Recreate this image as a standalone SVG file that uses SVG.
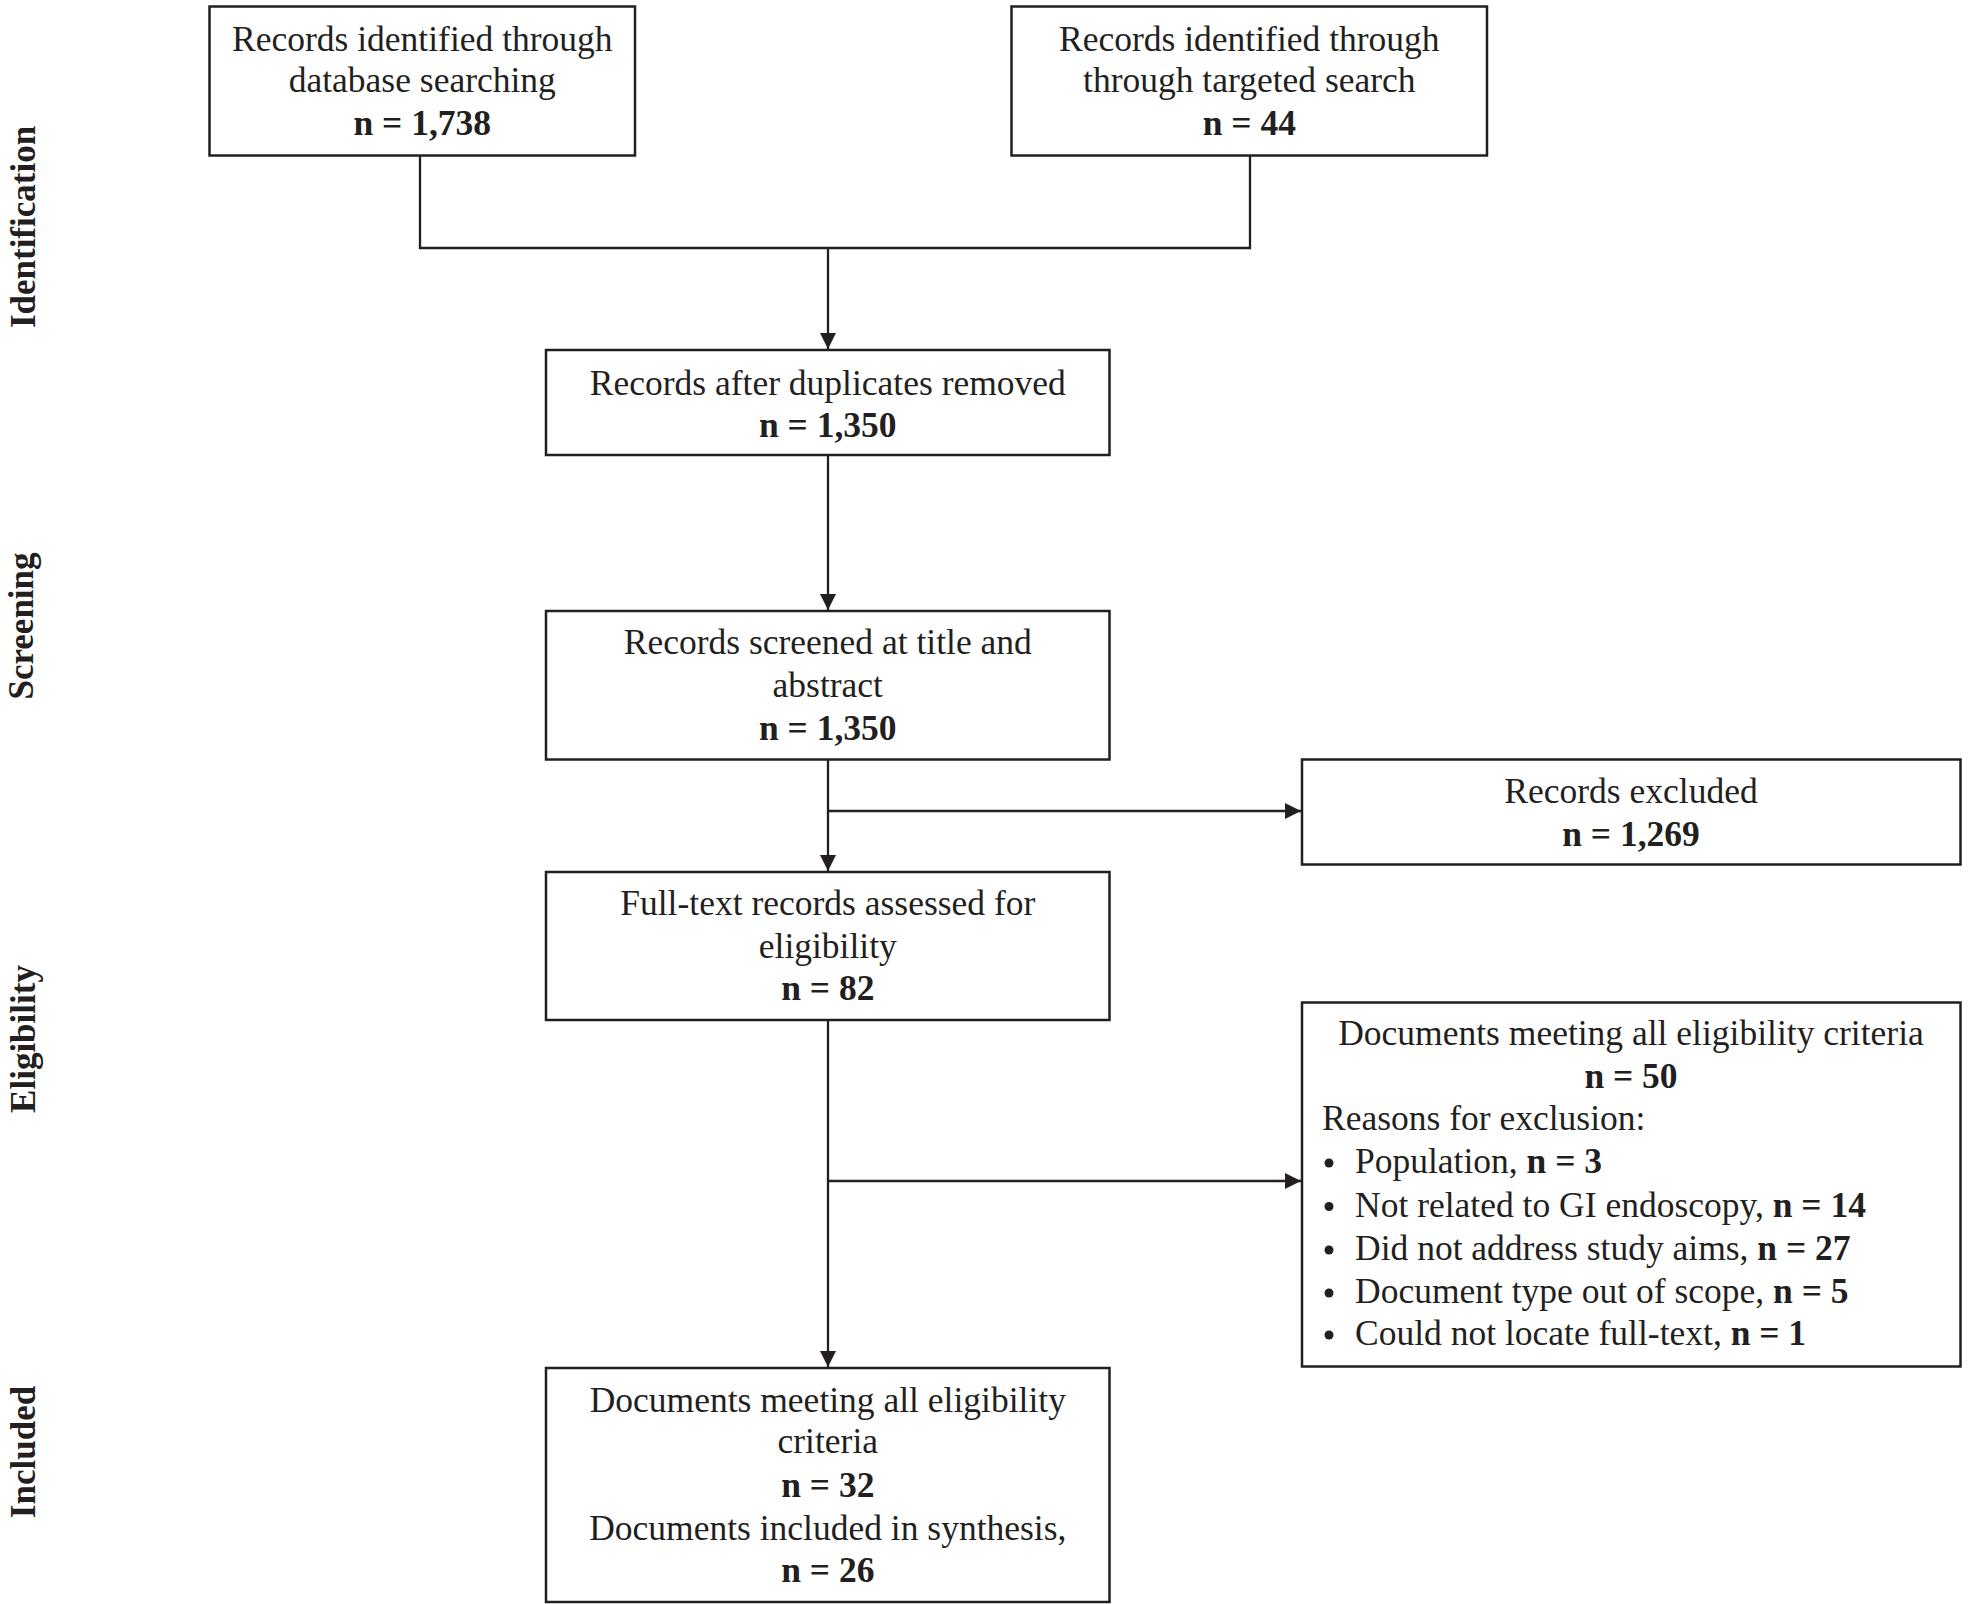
<svg xmlns="http://www.w3.org/2000/svg" width="1968" height="1604" viewBox="0 0 1968 1604">
<style>
.box{fill:#fff;stroke:#231f20;stroke-width:2.5}
.ln{fill:none;stroke:#231f20;stroke-width:2.3}
text{font-family:"Liberation Serif","Times New Roman",serif;font-size:35.5px;fill:#231f20}
.c{text-anchor:middle}
.b{font-weight:bold}
.side{font-weight:bold;font-size:35px;text-anchor:middle}
.dot{fill:#231f20}
</style>
<defs>
<marker id="ah" markerUnits="userSpaceOnUse" markerWidth="18" markerHeight="18" refX="16" refY="8" orient="auto">
<path d="M0,0 L16,8 L0,16 z" fill="#231f20"/>
</marker>
</defs>
<rect width="1968" height="1604" fill="#fff"/>
<g id="labels">
<text class="side" transform="translate(35,227) rotate(-90)">Identification</text>
<text class="side" transform="translate(33,626) rotate(-90)">Screening</text>
<text class="side" transform="translate(35,1039) rotate(-90)">Eligibility</text>
<text class="side" transform="translate(35,1452) rotate(-90)">Included</text>
</g>
<g id="connectors">
<path class="ln" d="M420,156 V248 H1250 V156"/>
<path class="ln" d="M828,248 V349" marker-end="url(#ah)"/>
<path class="ln" d="M828,455 V610" marker-end="url(#ah)"/>
<path class="ln" d="M828,759 V871" marker-end="url(#ah)"/>
<path class="ln" d="M828,811 H1301" marker-end="url(#ah)"/>
<path class="ln" d="M828,1020 V1367" marker-end="url(#ah)"/>
<path class="ln" d="M828,1181 H1301" marker-end="url(#ah)"/>
</g>
<g id="n1">
<rect class="box" x="209.5" y="6.5" width="425.5" height="149"/>
<text class="c" x="422.3" y="51">Records identified through</text>
<text class="c" x="422.3" y="92">database searching</text>
<text class="c b" x="422.3" y="135">n = 1,738</text>
</g>
<g id="n2">
<rect class="box" x="1011.5" y="6.5" width="475.5" height="149"/>
<text class="c" x="1249.3" y="51">Records identified through</text>
<text class="c" x="1249.3" y="92">through targeted search</text>
<text class="c b" x="1249.3" y="135">n = 44</text>
</g>
<g id="n3">
<rect class="box" x="546" y="350" width="563.5" height="105"/>
<text class="c" x="827.8" y="395">Records after duplicates removed</text>
<text class="c b" x="827.8" y="437">n = 1,350</text>
</g>
<g id="n4">
<rect class="box" x="546" y="611" width="563.5" height="148.5"/>
<text class="c" x="827.8" y="654">Records screened at title and</text>
<text class="c" x="827.8" y="697">abstract</text>
<text class="c b" x="827.8" y="740">n = 1,350</text>
</g>
<g id="n5">
<rect class="box" x="1302" y="759.5" width="658.5" height="105"/>
<text class="c" x="1631" y="803">Records excluded</text>
<text class="c b" x="1631" y="846">n = 1,269</text>
</g>
<g id="n6">
<rect class="box" x="546" y="872" width="563.5" height="148"/>
<text class="c" x="827.8" y="915">Full-text records assessed for</text>
<text class="c" x="827.8" y="958">eligibility</text>
<text class="c b" x="827.8" y="1000">n = 82</text>
</g>
<g id="n7">
<rect class="box" x="1302" y="1002.5" width="658.5" height="364"/>
<text class="c" x="1631" y="1045">Documents meeting all eligibility criteria</text>
<text class="c b" x="1631" y="1088">n = 50</text>
<text x="1322" y="1130">Reasons for exclusion:</text>
<circle class="dot" cx="1329" cy="1163" r="4.5"/>
<text x="1355" y="1173">Population, <tspan class="b">n = 3</tspan></text>
<circle class="dot" cx="1329" cy="1206.5" r="4.5"/>
<text x="1355" y="1216.5">Not related to GI endoscopy, <tspan class="b">n = 14</tspan></text>
<circle class="dot" cx="1329" cy="1250" r="4.5"/>
<text x="1355" y="1260">Did not address study aims, <tspan class="b">n = 27</tspan></text>
<circle class="dot" cx="1329" cy="1293" r="4.5"/>
<text x="1355" y="1303">Document type out of scope, <tspan class="b">n = 5</tspan></text>
<circle class="dot" cx="1329" cy="1335" r="4.5"/>
<text x="1355" y="1345">Could not locate full-text, <tspan class="b">n = 1</tspan></text>
</g>
<g id="n8">
<rect class="box" x="546" y="1368" width="563.5" height="234"/>
<text class="c" x="827.8" y="1412">Documents meeting all eligibility</text>
<text class="c" x="827.8" y="1453">criteria</text>
<text class="c b" x="827.8" y="1497">n = 32</text>
<text class="c" x="827.8" y="1540">Documents included in synthesis,</text>
<text class="c b" x="827.8" y="1582">n = 26</text>
</g>
</svg>
